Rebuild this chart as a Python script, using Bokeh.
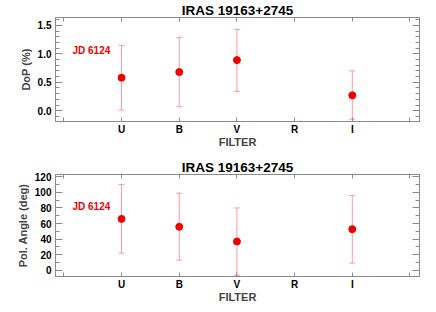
from bokeh.plotting import figure
from bokeh.layouts import column
from bokeh.models import (ColumnDataSource, Whisker, TeeHead, Label, LinearAxis,
                          FixedTicker, SingleIntervalTicker, Range1d, NumeralTickFormatter)
from bokeh.embed import file_html
from bokeh.resources import INLINE

# ---- data ----
filters = ["U", "B", "V", "R", "I"]
filter_pos = [1, 2, 3, 4, 5]
edge_ticks = [0, 6]

dop_x = [1, 2, 3, 5]
dop = [0.58, 0.68, 0.89, 0.27]
dop_lo = [0.01, 0.07, 0.34, -0.15]
dop_hi = [1.15, 1.29, 1.43, 0.70]

ang_x = [1, 2, 3, 5]
ang = [66.0, 55.8, 37.0, 52.8]
ang_lo = [22.0, 13.0, -6.5, 9.2]
ang_hi = [110.0, 99.0, 80.0, 96.0]

title_text = "IRAS 19163+2745"
jd_text = "JD 6124"

FONT = "Liberation Sans"
GRAY = "#8a8a8a"
RED = "#f00000"
ERR = "#ff9a9a"


def make_panel(height, top, bottom, yr, ylabel, interval, nminor, fmt,
               xs, ys, lo, hi, jd_y):
    p = figure(width=436, height=height, output_backend="svg", toolbar_location=None,
               x_range=Range1d(-0.145, 6.165), y_range=Range1d(*yr),
               min_border_left=55, min_border_right=17,
               min_border_top=top, min_border_bottom=bottom,
               x_axis_location=None, y_axis_location=None)
    p.grid.visible = False
    p.outline_line_color = GRAY
    p.background_fill_color = "white"
    p.border_fill_color = "white"

    p.title.text = title_text
    p.title.align = "center"
    p.title.text_font = FONT
    p.title.text_font_style = "bold"
    p.title.text_font_size = "13.5px"
    p.title.text_color = "black"
    p.title.standoff = 0
    p.title.offset = 0

    # bottom x axis: labelled filters, unlabelled edge ticks as minor ticks
    ax = LinearAxis(ticker=FixedTicker(ticks=filter_pos, minor_ticks=edge_ticks))
    ax.major_label_overrides = {xp: f for xp, f in zip(filter_pos, filters)}
    ax.axis_line_color = GRAY
    ax.major_tick_line_color = GRAY
    ax.minor_tick_line_color = GRAY
    ax.major_tick_in = 4
    ax.major_tick_out = 0
    ax.minor_tick_in = 4
    ax.minor_tick_out = 0
    ax.axis_label = "FILTER"
    ax.axis_label_text_font = FONT
    ax.axis_label_text_font_style = "bold"
    ax.axis_label_text_font_size = "11px"
    ax.axis_label_standoff = -2
    ax.major_label_standoff = 2
    ax.major_label_text_font = FONT
    ax.major_label_text_font_style = "bold"
    ax.major_label_text_font_size = "10px"
    ax.major_label_text_color = "black"
    p.add_layout(ax, "below")

    # top x axis: ticks only
    at = LinearAxis(ticker=FixedTicker(ticks=[], minor_ticks=edge_ticks[:1] + filter_pos + edge_ticks[1:]))
    at.axis_line_color = GRAY
    at.minor_tick_line_color = GRAY
    at.minor_tick_in = 4
    at.minor_tick_out = 0
    at.major_tick_out = 0
    at.major_label_standoff = 0
    at.major_label_text_color = None
    p.add_layout(at, "above")

    # y axes (left + right)
    for loc in ("left", "right"):
        ay = LinearAxis(ticker=SingleIntervalTicker(interval=interval, num_minor_ticks=nminor))
        ay.axis_line_color = GRAY
        ay.major_tick_line_color = GRAY
        ay.minor_tick_line_color = GRAY
        ay.major_tick_in = 7
        ay.major_tick_out = 0
        ay.minor_tick_in = 4
        ay.minor_tick_out = 0
        if loc == "left":
            ay.formatter = NumeralTickFormatter(format=fmt)
            ay.axis_label = ylabel
            ay.axis_label_text_font = FONT
            ay.axis_label_text_font_style = "bold"
            ay.axis_label_text_font_size = "11px"
            ay.axis_label_standoff = 3
            ay.major_label_standoff = 4
            ay.major_label_text_font = FONT
            ay.major_label_text_font_style = "bold"
            ay.major_label_text_font_size = "10px"
            ay.major_label_text_color = "black"
        else:
            ay.major_label_text_color = None
            ay.major_label_standoff = 0
        p.add_layout(ay, loc)

    src = ColumnDataSource(dict(x=xs, y=ys, lo=lo, hi=hi))
    w = Whisker(source=src, base="x", lower="lo", upper="hi",
                line_color=ERR, line_width=1,
                upper_head=TeeHead(size=6, line_color=ERR, line_width=1),
                lower_head=TeeHead(size=6, line_color=ERR, line_width=1))
    p.add_layout(w)
    p.scatter("x", "y", source=src, size=7, color=RED)

    p.add_layout(Label(x=17, y=jd_y, x_units="screen", y_units="screen", text=jd_text,
                       text_color=RED, text_font=FONT, text_font_style="bold",
                       text_font_size="10px", text_baseline="alphabetic"))
    return p


p1 = make_panel(150, 16, 29, (-0.19, 1.64), "DoP (%)", 0.5, 5, "0.0",
                dop_x, dop, dop_lo, dop_hi, jd_y=71)
p2 = make_panel(162, 24, 36, (-8.0, 123.0), "Pol. Angle (deg)", 20, 2, "0",
                ang_x, ang, ang_lo, ang_hi, jd_y=70)

layout = column(p1, p2, spacing=0)
open("out.html", "w").write(file_html(layout, INLINE))
